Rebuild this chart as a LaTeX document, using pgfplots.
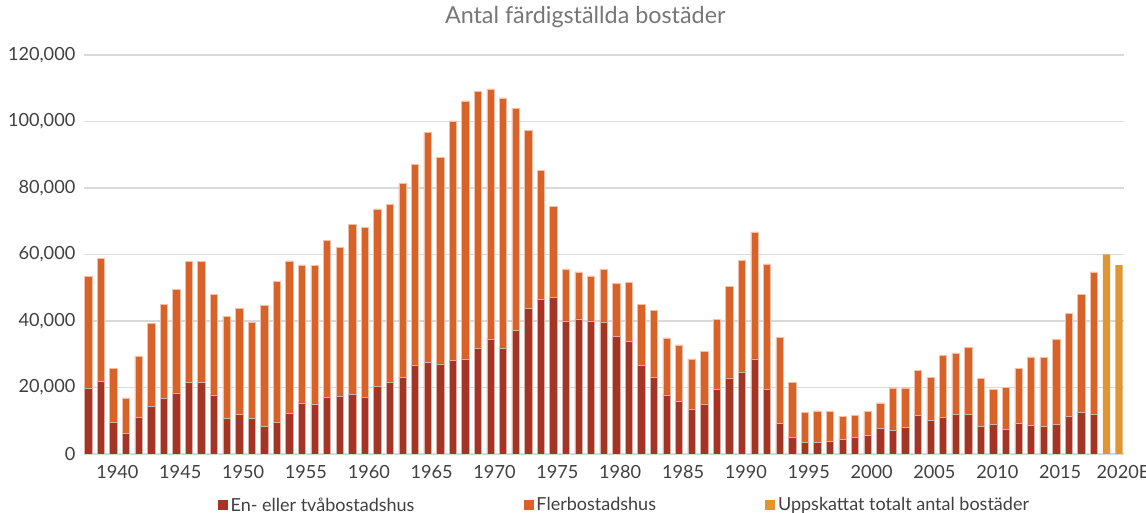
\documentclass[border=0pt]{standalone}
\usepackage{fontspec}
\setmainfont{Lato}
\usepackage{pgfplots}
\pgfplotsset{compat=1.18}
\usepackage{pgfplotstable}
\definecolor{cRed}{RGB}{164,53,36}
\definecolor{cOrange}{RGB}{217,98,41}
\definecolor{cEst}{RGB}{224,150,50}
\definecolor{cGrid}{RGB}{217,217,217}
\definecolor{cText}{RGB}{64,64,64}
\definecolor{cTitle}{RGB}{118,118,118}

\pgfplotstableread{
year red multi est
1938 19900 33500 0
1939 21900 37000 0
1940 9600 16200 0
1941 6200 10700 0
1942 10900 18500 0
1943 14500 24800 0
1944 16700 28300 0
1945 18400 31000 0
1946 21500 36400 0
1947 21500 36400 0
1948 17800 30100 0
1949 10800 30600 0
1950 11900 32000 0
1951 10600 29000 0
1952 8200 36500 0
1953 9400 42400 0
1954 12300 45800 0
1955 15400 41500 0
1956 14900 41800 0
1957 17000 47300 0
1958 17300 44800 0
1959 17900 51200 0
1960 17200 50900 0
1961 20300 53400 0
1962 21500 53600 0
1963 23100 58300 0
1964 26700 60400 0
1965 27500 69300 0
1966 27100 62200 0
1967 28200 72000 0
1968 28600 77600 0
1969 31700 77300 0
1970 34600 75200 0
1971 31800 75300 0
1972 37100 66900 0
1973 43800 53500 0
1974 46500 38700 0
1975 47000 27500 0
1976 40000 15700 0
1977 40600 14200 0
1978 40000 13600 0
1979 39700 15800 0
1980 35300 16000 0
1981 33800 17700 0
1982 26700 18400 0
1983 23100 20200 0
1984 17800 17100 0
1985 15800 17000 0
1986 13500 15100 0
1987 15100 15700 0
1988 19400 21100 0
1989 22900 27500 0
1990 24600 33700 0
1991 28600 38200 0
1992 19400 37800 0
1993 9300 25800 0
1994 5100 16400 0
1995 3600 9000 0
1996 3600 9400 0
1997 3800 9100 0
1998 4300 7000 0
1999 5000 6600 0
2000 5500 7400 0
2001 7700 7700 0
2002 7100 12800 0
2003 8000 11900 0
2004 11500 13700 0
2005 10000 13000 0
2006 10900 18800 0
2007 12000 18400 0
2008 12000 20000 0
2009 8300 14400 0
2010 8800 10600 0
2011 7300 12700 0
2012 9200 16600 0
2013 8500 20700 0
2014 8300 20700 0
2015 8900 25600 0
2016 11300 31100 0
2017 12400 35700 0
2018 11900 42900 0
2019 0 0 60000
2020 0 0 56800
}\data

\begin{document}
\begin{tikzpicture}
\useasboundingbox (-63pt,-44.25pt) rectangle (796.5pt,340.5pt);
\begin{axis}[
  at={(0,0)}, anchor=south west,
  scale only axis, width=780pt, height=299.25pt,
  ybar stacked, bar width=5.5pt,
  xmin=1937.66, xmax=2020.4,
  ymin=0, ymax=120000,
  scaled ticks=false,
  ytick={0,20000,40000,60000,80000,100000,120000},
  yticklabels={0,{20,000},{40,000},{60,000},{80,000},{100,000},{120,000}},
  ymajorgrids, grid style={cGrid, line width=1.1pt},
  axis line style={draw=none},
  major tick length=0pt,
  xtick={1940,1945,1950,1955,1960,1965,1970,1975,1980,1985,1990,1995,2000,2005,2010,2015,2020},
  xticklabels={1940,1945,1950,1955,1960,1965,1970,1975,1980,1985,1990,1995,2000,2005,2010,2015,2020E},
  tick label style={font=\fontsize{13.6}{15}\selectfont, text=cText},
  xticklabel style={anchor=north, yshift=-5pt, xshift=3pt},
  yticklabel style={anchor=east, xshift=-3pt},
  title={Antal färdigställda bostäder},
  title style={at={(0.482,1)}, anchor=base, yshift=17.25pt, font=\fontsize{17.5}{20}\selectfont, text=cTitle},
  legend style={at={(0.52,0)}, anchor=center, yshift=-38.5pt, draw=none, fill=none,
    legend columns=3, font=\fontsize{13.5}{15}\selectfont, text=cText,
    /tikz/every even column/.append style={column sep=80pt},
    cells={anchor=west}},
  legend image code/.code={\fill[#1,draw=none] (0pt,-3.75pt) rectangle (7.5pt,3.75pt);},
]
\addplot[fill=cRed, draw=white!60!cRed, line width=0.4pt] table[x=year, y=red] {\data};
\addlegendentry{En- eller tvåbostadshus}
\addplot[fill=cOrange, draw=white!60!cOrange, line width=0.4pt] table[x=year, y=multi] {\data};
\addlegendentry{Flerbostadshus}
\addplot[fill=cEst, draw=none] table[x=year, y=est] {\data};
\addlegendentry{Uppskattat totalt antal bostäder}
\end{axis}
\end{tikzpicture}
\end{document}
